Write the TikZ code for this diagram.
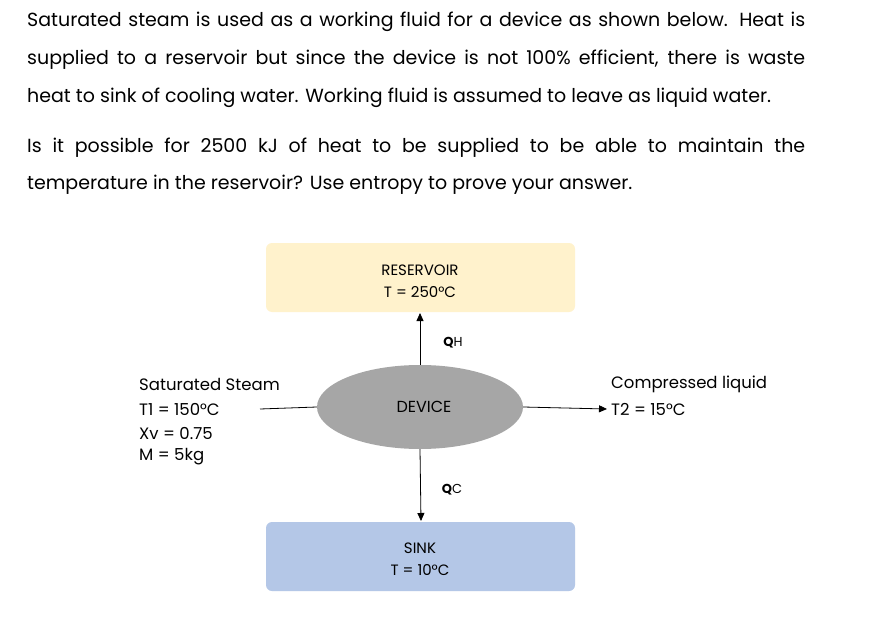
\documentclass[tikz,border=0pt]{standalone}
\usepackage{fontspec}
\setmainfont{Poppins}
\usetikzlibrary{arrows.meta,shapes.geometric}
\begin{document}
\begin{tikzpicture}[x=1pt,y=-1pt,
  para/.style={anchor=west,inner sep=0pt,font=\fontsize{19}{22}\selectfont},
  lbl/.style={anchor=west,inner sep=0pt,font=\fontsize{16.5}{19}\selectfont},
  boxtxt/.style={align=center,font=\fontsize{15}{24}\selectfont},
  arr/.style={-{Triangle[length=8pt,width=7pt]},line width=0.8pt}]
\useasboundingbox (0,0) rectangle (878,639);
\fill[white] (0,0) rectangle (878,639);
\node[para] (p1) at (27,22) {\makebox[778pt][s]{Saturated steam is used as a working fluid for a device as shown below. Heat is}};
\node[para] (p2) at (27,60) {\makebox[778pt][s]{supplied to a reservoir but since the device is not 100\% efficient, there is waste}};
\node[para] (p3) at (27,98) {heat to sink of cooling water. Working fluid is assumed to leave as liquid water.};
\node[para] (p4) at (27,148) {\makebox[778pt][s]{Is it possible for 2500 kJ of heat to be supplied to be able to maintain the}};
\node[para] (p5) at (27,185) {temperature in the reservoir? Use entropy to prove your answer.};
\fill[rounded corners=6pt,fill={rgb,255:red,255;green,242;blue,204}] (266,243) rectangle (575,312);
\node[boxtxt] (res) at (420,281) {RESERVOIR\\[-2pt]T = 250°C};
\fill[rounded corners=6pt,fill={rgb,255:red,180;green,199;blue,231}] (266,522) rectangle (575,591);
\node[boxtxt] (sink) at (420,559) {SINK\\[-2pt]T = 10°C};
\node[ellipse,fill={rgb,255:red,166;green,166;blue,166},minimum width=206pt,minimum height=84pt,inner sep=0pt] (dev) at (420,407) {};
\node[font=\fontsize{16}{18}\selectfont] at (424,407) {DEVICE};
\coordinate (rb) at (420,313);
\coordinate (st) at (421,521);
\draw[arr] (dev.north) -- (rb);
\draw[arr] (dev.south) -- (st);
\node[font=\bfseries\fontsize{13}{15}\selectfont,inner sep=0pt] (qh) at (453,343) {Q\textmd{H}};
\node[font=\bfseries\fontsize{13}{15}\selectfont,inner sep=0pt] (qc) at (452,490) {Q\textmd{C}};
\node[lbl] (s1) at (139,384) {Saturated Steam};
\node[lbl] (s2) at (139,409) {T1 = 150°C};
\node[lbl] (s3) at (139,433) {Xv = 0.75};
\node[lbl] (s4) at (139,457) {M = 5kg};
\node[lbl] (c1) at (611,384) {Compressed liquid};
\node[lbl] (c2) at (611,409) {T2 = 15°C};
\coordinate (inl) at (260,409);
\draw[line width=0.8pt] (inl) -- (dev.west);
\draw[arr] (dev.east) -- ([xshift=-4pt]c2.west);
\end{tikzpicture}
\end{document}
